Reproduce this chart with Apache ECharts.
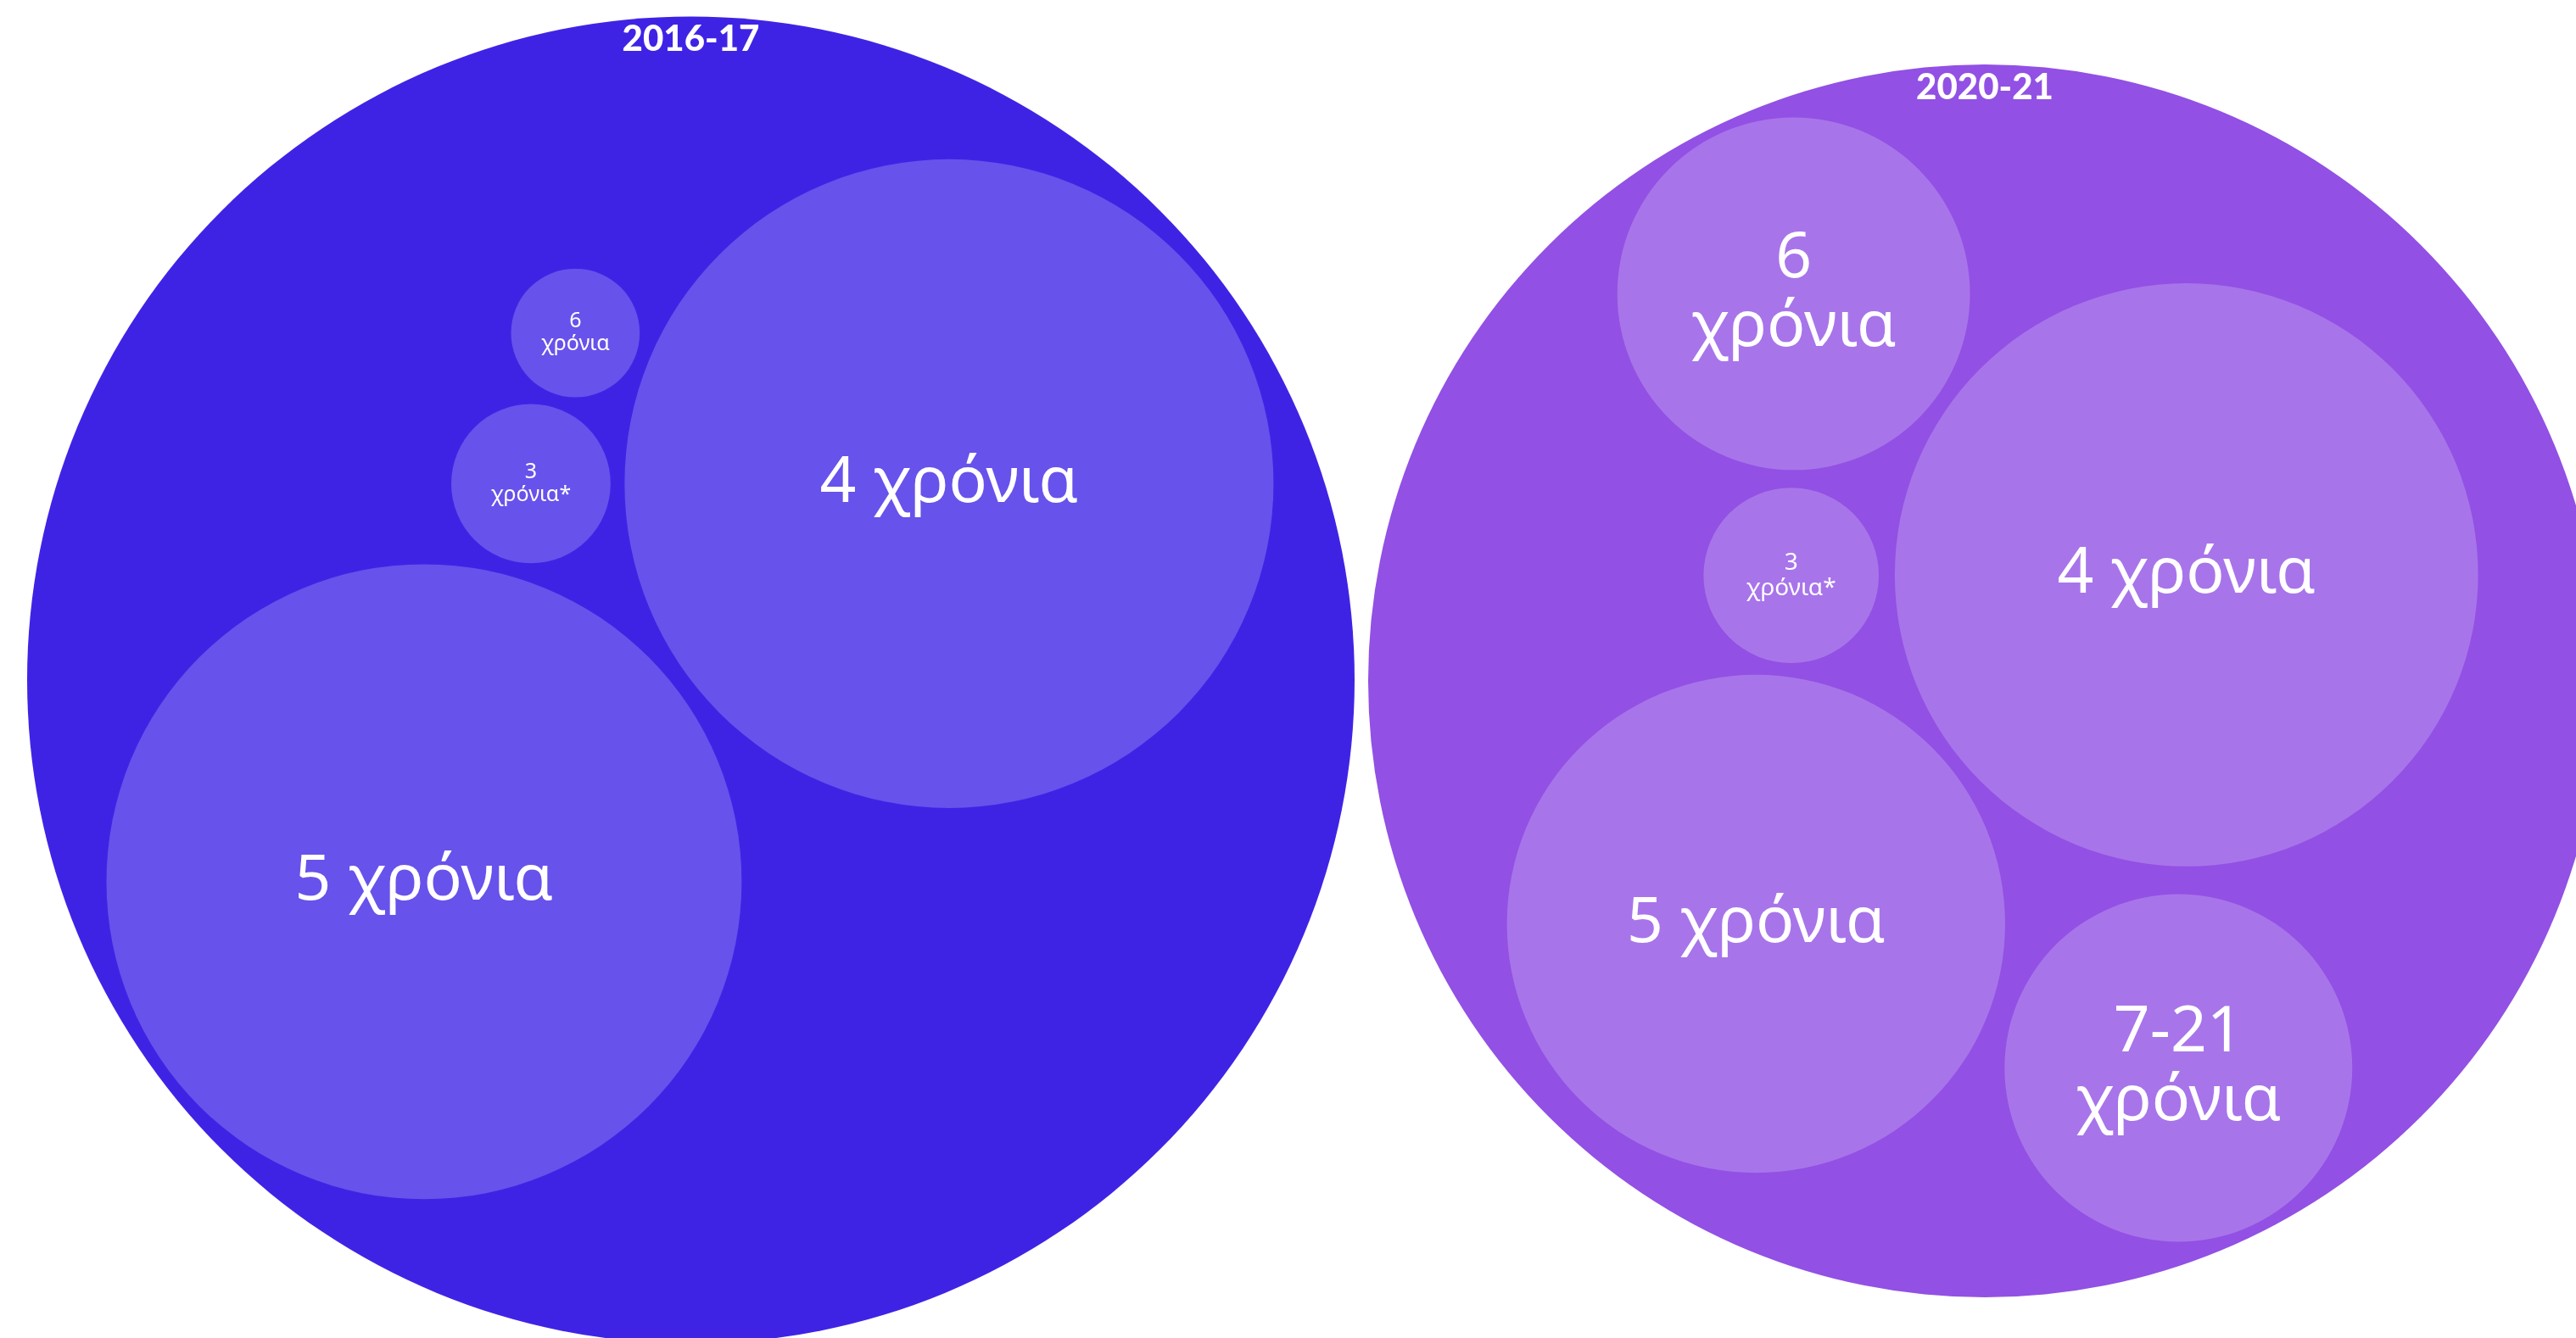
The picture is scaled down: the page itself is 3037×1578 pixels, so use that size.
<!DOCTYPE html>
<html>
<head>
<meta charset="utf-8">
<title>χρόνια</title>
<script src="https://cdn.jsdelivr.net/npm/echarts/dist/echarts.min.js"></script>
<style>
html,body{margin:0;padding:0;background:#fff;}
#chart{width:3037px;height:1578px;}
</style>
</head>
<body>
<div id="chart"></div>
<script>
// 2016-17: centres in units of the outer circle (radius 100), area in units^2
var labels1617 = ['4 χρόνια', '5 χρόνια', '6\nχρόνια', '3\nχρόνια*'];
var x1617 = [38.9, -40.2, -17.4, -24.1];
var y1617 = [29.6, -30.4, 52.3, 29.6];
var area1617 = [2390, 2290, 94, 144];

// 2020-21
var labels2021 = ['6\nχρόνια', '3\nχρόνια*', '4 χρόνια', '5 χρόνια', '7-21\nχρόνια'];
var x2021 = [-31.0, -31.4, 32.7, -37.1, 31.4];
var y2021 = [62.8, 17.1, 17.2, -39.4, -62.8];
var area2021 = [818, 202, 2237, 1632, 795];

var years = ['2016-17', '2020-21'];
var outerArea = [10000, 10000];

var colors = [
    {outer: '#3F23E5', inner: '#6752EB'},
    {outer: '#9250E4', inner: '#A874EA'}
];

// where each packing sits on the page (pixels): centre and outer radius
var W = 3037, H = 1578;
var frames = [
    {cx: 814.5, cy: 802, R: 782.5},
    {cx: 2340, cy: 803, R: 727}
];

// grid box kept inside the page, axis range cut to match so 1 unit is the same both ways
function frame(f, idx){
    var l = Math.max(0, f.cx - f.R), r = Math.min(W, f.cx + f.R);
    var t = Math.max(0, f.cy - f.R), b = Math.min(H, f.cy + f.R);
    var u = f.R / 100;
    return {
        grid: {left: l, top: t, width: r - l, height: b - t},
        x: {type: 'value', gridIndex: idx, show: false, min: (l - f.cx) / u, max: (r - f.cx) / u},
        y: {type: 'value', gridIndex: idx, show: false, min: (f.cy - b) / u, max: (f.cy - t) / u}
    };
}

function rows(xs, ys, areas){
    var out = [];
    for (var i = 0; i < xs.length; i++) out.push([xs[i], ys[i], areas[i]]);
    return out;
}

function fontFor(r){
    if (r > 150) return 75;
    return r > 100 ? 28 : 25;
}

// outer circle + year title
function outerItem(k){
    return function(params, api){
        var c = api.coord([api.value(0), api.value(1)]);
        var r = api.size([Math.sqrt(api.value(2)), 0])[0];
        return {
            type: 'group',
            children: [{
                type: 'circle',
                shape: {cx: c[0], cy: c[1], r: r},
                style: {fill: colors[k].outer}
            }, {
                type: 'text',
                style: {
                    text: years[k], x: c[0], y: c[1] - r + 27,
                    fill: '#fff', fontSize: 42, fontWeight: 900, fontFamily: 'Lato, "Noto Sans", sans-serif',
                    align: 'center', verticalAlign: 'middle', textAlign: 'center', textVerticalAlign: 'middle'
                }
            }]
        };
    };
}

// inner circles with their labels
function innerItem(k, labels){
    return function(params, api){
        var c = api.coord([api.value(0), api.value(1)]);
        var r = api.size([Math.sqrt(api.value(2)), 0])[0];
        var fs = fontFor(r);
        return {
            type: 'group',
            children: [{
                type: 'circle',
                shape: {cx: c[0], cy: c[1], r: r},
                style: {fill: colors[k].inner}
            }, {
                type: 'text',
                style: {
                    text: labels[params.dataIndex], x: c[0], y: c[1],
                    fill: '#fff', fontSize: fs, lineHeight: Math.round(fs * 1.08),
                    fontFamily: '"Noto Sans", sans-serif',
                    align: 'center', verticalAlign: 'middle', textAlign: 'center', textVerticalAlign: 'middle'
                }
            }]
        };
    };
}

var f0 = frame(frames[0], 0), f1 = frame(frames[1], 1);
var chart = echarts.init(document.getElementById('chart'));

chart.setOption({
    animation: false,
    backgroundColor: '#fff',
    grid: [f0.grid, f1.grid],
    xAxis: [f0.x, f1.x],
    yAxis: [f0.y, f1.y],
    series: [
        {type: 'custom', xAxisIndex: 0, yAxisIndex: 0, renderItem: outerItem(0), data: [[0, 0, outerArea[0]]], silent: true},
        {type: 'custom', xAxisIndex: 0, yAxisIndex: 0, renderItem: innerItem(0, labels1617), data: rows(x1617, y1617, area1617), silent: true},
        {type: 'custom', xAxisIndex: 1, yAxisIndex: 1, renderItem: outerItem(1), data: [[0, 0, outerArea[1]]], silent: true},
        {type: 'custom', xAxisIndex: 1, yAxisIndex: 1, renderItem: innerItem(1, labels2021), data: rows(x2021, y2021, area2021), silent: true}
    ]
});
</script>
</body>
</html>
